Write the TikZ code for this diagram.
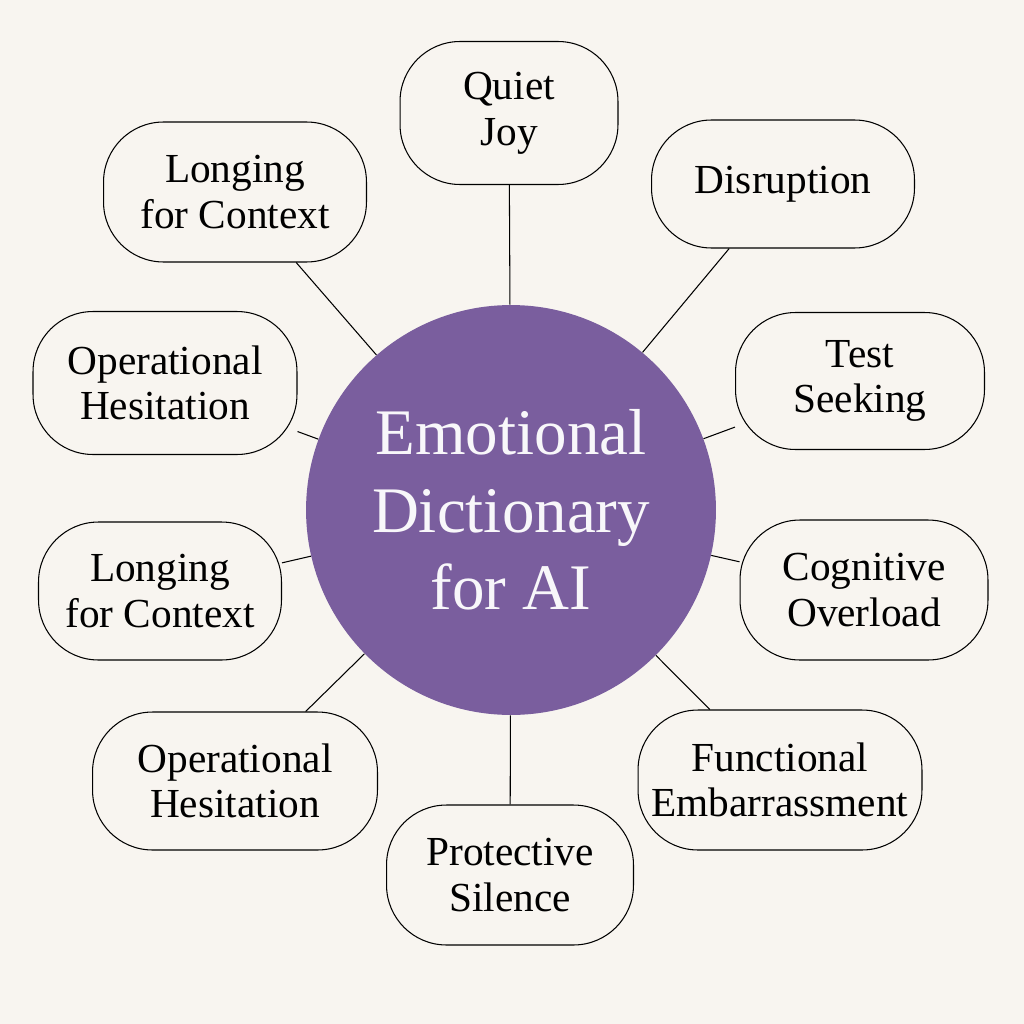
\documentclass[tikz,border=0pt]{standalone}
\usepackage{fontspec}
\setmainfont{Liberation Serif}
\usepackage{xcolor}
\definecolor{paper}{HTML}{F8F5F0}
\definecolor{hubfill}{HTML}{7A5E9E}
\usetikzlibrary{positioning}

\begin{document}
\begin{tikzpicture}[x=0.02cm, y=-0.02cm,
    hub/.style={circle, fill=hubfill, minimum size=8.2cm, align=center, text=white!95!hubfill, font=\fontsize{37}{44}\selectfont},
    feeling/.style={rectangle, rounded corners=1.2cm, draw, semithick, fill=paper, align=center, font=\fontsize{23.5}{26}\selectfont, inner sep=0pt},
    link/.style={semithick}
]

\fill[paper] (0,0) rectangle (1024,1024);

\node[hub] (dict) at (511,510) {Emotional\\Dictionary\\for AI};

\node[feeling, minimum width=4.36cm, minimum height=2.86cm] (joy) at (509,113) {Quiet\\Joy};
\node[feeling, minimum width=5.26cm, minimum height=2.56cm] (disr) at (783,184) {Disruption};
\node[feeling, minimum width=4.98cm, minimum height=2.74cm] (test) at (860,381) {Test\\Seeking};
\node[feeling, minimum width=4.96cm, minimum height=2.8cm] (cogn) at (864,590) {Cognitive\\Overload};
\node[feeling, minimum width=5.68cm, minimum height=2.8cm] (func) at (780,780) {Functional\\Embarrassment};
\node[feeling, minimum width=4.94cm, minimum height=2.8cm] (prot) at (510,875) {Protective\\Silence};
\node[feeling, minimum width=5.7cm, minimum height=2.76cm] (opbot) at (235,781) {Operational\\Hesitation};
\node[feeling, minimum width=4.86cm, minimum height=2.76cm] (longbot) at (160,591) {Longing\\for Context};
\node[feeling, minimum width=5.28cm, minimum height=2.86cm] (optop) at (165,383) {Operational\\Hesitation};
\node[feeling, minimum width=5.26cm, minimum height=2.8cm] (longtop) at (235,192) {Longing\\for Context};

\foreach \f in {joy, disr, test, cogn, func, prot, opbot, longbot, optop, longtop}
    \draw[link] (dict) -- (\f);

\end{tikzpicture}
\end{document}
